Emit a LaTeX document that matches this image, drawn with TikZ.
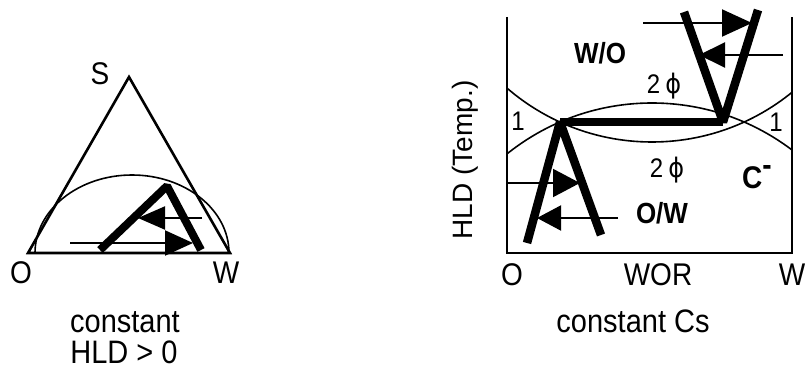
\documentclass[tikz,border=0pt]{standalone}
\usepackage{fontspec}
\setmainfont{Liberation Sans}
\newfontfamily\phifont{DejaVu Sans}
\usetikzlibrary{arrows.meta}
\newcommand\tallt[1]{\scalebox{1}[1.12]{#1}}
\begin{document}
\begin{tikzpicture}[x=1pt,y=-1pt,
  lab/.style={font=\fontsize{28}{28}\selectfont, inner sep=0pt},
  capt/.style={font=\fontsize{29}{29}\selectfont, inner sep=0pt, anchor=base},
  small/.style={font=\fontsize{24}{24}\selectfont, inner sep=0pt},
  bold/.style={font=\fontsize{26}{26}\selectfont\bfseries, inner sep=0pt},
  frame/.style={line width=2.6pt},
  fine/.style={line width=1.6pt},
  fat/.style={line width=8.5pt, line join=bevel},
  arr/.style={line width=2pt, -{Triangle[length=28pt,width=25pt]}}]
\useasboundingbox (0,0) rectangle (805,374);

% ---------- left: ternary diagram ----------
\coordinate (tO) at (28,253);
\coordinate (tW) at (230,253);
\coordinate (tS) at (129,77);
\draw[frame, line join=miter] (tO) -- (tS) -- (tW) -- cycle;
\draw[fine] (35,253) arc[start angle=180, end angle=360, x radius=97, y radius=78];
\coordinate (la1) at (100,250);
\coordinate (la2) at (167,186);
\coordinate (la3) at (201,250);
\draw[fat, line width=8pt] (la1) -- (la2) -- (la3);
\coordinate (lr0) at (70,243);
\coordinate (lr1) at (193,243);
\draw[arr] (lr0) -- (lr1);
\coordinate (ll0) at (202,218);
\coordinate (ll1) at (138,218);
\draw[arr,-{Triangle[length=27pt,width=23pt]}] (ll0) -- (ll1);

\node[lab] (S) at (100,74) {\tallt{S}};
\node[lab] (O1) at (21,273) {\tallt{O}};
\node[lab] (W1) at (226,273) {\tallt{W}};
\node[capt] (c1) at (125,332) {\tallt{constant}};
\node[capt] (c2) at (124,363) {\tallt{HLD > 0}};

% ---------- right: HLD vs WOR ----------
\coordinate (bTL) at (507,17);
\coordinate (bBL) at (507,253);
\coordinate (bBR) at (792,253);
\coordinate (bTR) at (792,17);
\draw[line width=2.2pt] (bTL) -- (bBL) -- (bBR) -- (bTR);
\begin{scope}
  \clip (507,0) rectangle (792,260);
  \draw[fine] (652,-80) circle[radius=222];
  \draw[fine] (652,335) circle[radius=232];
\end{scope}

\coordinate (A1) at (527,243);
\coordinate (A2) at (560,122);
\coordinate (A3) at (601,235);
\coordinate (V0) at (723,122);
\coordinate (V1) at (684,12);
\coordinate (V2) at (758,10);
\draw[fat] (A1) -- (A2) -- (A3);
\draw[fat] (A2) -- (V0);
\draw[fat] (V1) -- (V0) -- (V2);

\coordinate (ra0) at (643,23);
\coordinate (ra1) at (752,23);
\draw[arr,-{Triangle[length=30pt,width=27pt]}] (ra0) -- (ra1);
\coordinate (rb0) at (783,55);
\coordinate (rb1) at (699,55);
\draw[arr,-{Triangle[length=26pt,width=25pt]}] (rb0) -- (rb1);
\coordinate (rc0) at (508,183);
\coordinate (rc1) at (580,183);
\draw[arr,-{Triangle[length=27pt,width=28pt]}] (rc0) -- (rc1);
\coordinate (rd0) at (618,218);
\coordinate (rd1) at (537,218);
\draw[arr,-{Triangle[length=24pt,width=25pt]}] (rd0) -- (rd1);

\node[bold] (WO) at (600,53) {\tallt{W/O}};
\node[bold] (OW) at (662,213) {\tallt{O/W}};
\node[small] (phiU) at (664,86) {\tallt{2\hspace{5pt}{\phifont ϕ}}};
\node[small] (phiL) at (667,170) {\tallt{2\hspace{5pt}{\phifont ϕ}}};
\node[small] (oneL) at (518,121) {\tallt{1}};
\node[small] (oneR) at (776,122) {\tallt{1}};
\node[bold, font=\fontsize{28}{28}\selectfont\bfseries] (Cm) at (757,177) {\tallt{C\raisebox{11pt}{-}}};
\node[lab, rotate=90] (hld) at (465,160) {HLD (Temp.)};
\node[lab] (O2) at (512,275) {\tallt{O}};
\node[lab] (WOR) at (658,275) {\tallt{WOR}};
\node[lab] (W2) at (792,275) {\tallt{W}};
\node[capt] (c3) at (633,332) {\tallt{constant Cs}};
\end{tikzpicture}
\end{document}
